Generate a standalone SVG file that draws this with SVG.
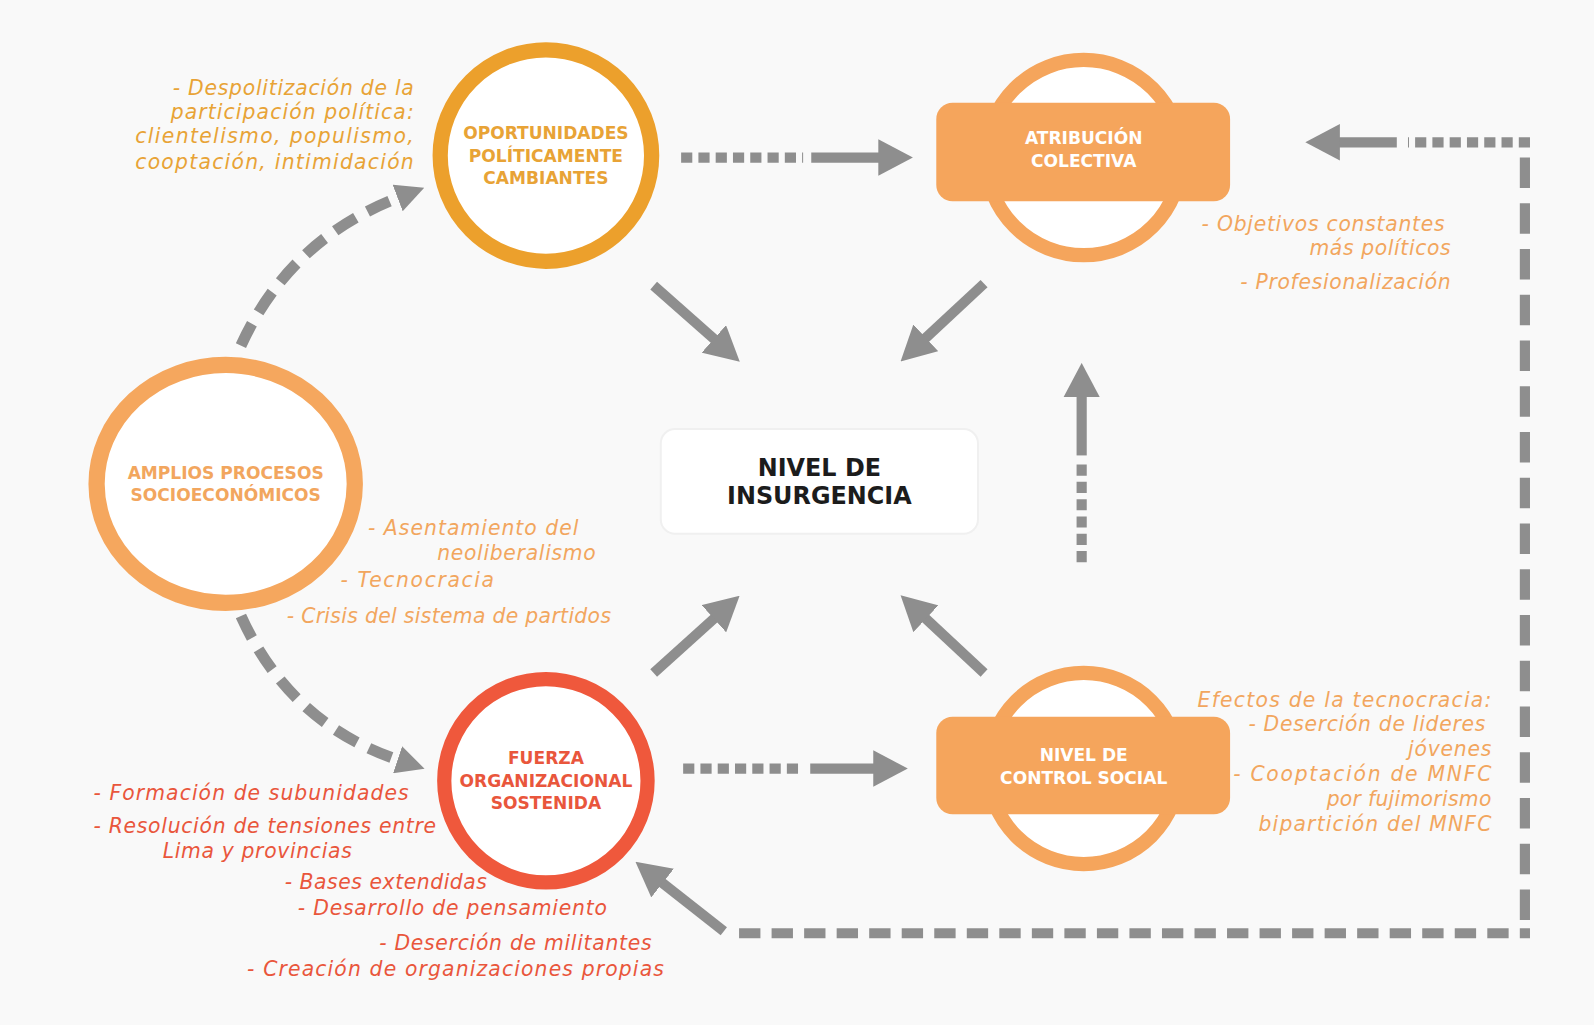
<svg xmlns="http://www.w3.org/2000/svg" width="1594" height="1025" viewBox="0 0 1594 1025">
<defs>
<style>
.bg{fill:#f9f9f9}
.lbl{font-family:"DejaVu Sans","Liberation Sans",sans-serif;font-weight:bold;font-size:16.8px;text-anchor:middle}
.note{font-family:"DejaVu Sans","Liberation Sans",sans-serif;font-style:italic;font-size:20px;letter-spacing:1px}
.end{text-anchor:end}
.c-gold{fill:#E8A336}
.c-peach{fill:#F2A65E}
.c-red{fill:#E9563C}
.white{fill:#ffffff}
.ar{stroke:#8e8e8e;stroke-width:10;fill:none}
.dot{stroke-dasharray:11 6}
.dash{stroke:#8e8e8e;stroke-width:11;fill:none;stroke-dasharray:24 13}
</style>
<marker id="ah" markerUnits="userSpaceOnUse" markerWidth="34" markerHeight="36" viewBox="0 0 34 36" refX="1" refY="18" orient="auto">
<path d="M0,0 L34,18 L0,36 z" fill="#8e8e8e"/>
</marker>
<marker id="ahs" markerUnits="userSpaceOnUse" markerWidth="28" markerHeight="28" viewBox="0 0 28 28" refX="2" refY="14" orient="auto">
<path d="M0,0 L28,14 L0,28 z" fill="#8e8e8e"/>
</marker>
</defs>
<rect class="bg" x="0" y="0" width="1594" height="1025"/>

<g id="diagram" transform="scale(1.0166)">
<g id="connectors">
<line class="ar dot" x1="670" y1="155" x2="790" y2="155"/>
<line class="ar" x1="798" y1="155" x2="865" y2="155" marker-end="url(#ah)"/>
<line class="ar" x1="643" y1="281" x2="703" y2="334" marker-end="url(#ah)"/>
<line class="ar" x1="968" y1="279" x2="910" y2="333" marker-end="url(#ah)"/>
<line class="ar" x1="643" y1="662" x2="703" y2="608" marker-end="url(#ah)"/>
<line class="ar" x1="968" y1="662" x2="910" y2="608" marker-end="url(#ah)"/>
<line class="ar dot" x1="1064" y1="553" x2="1064" y2="451"/>
<line class="ar" x1="1064" y1="448" x2="1064" y2="390" marker-end="url(#ah)"/>
<line class="ar dot" x1="672" y1="756" x2="790" y2="756"/>
<line class="ar" x1="797" y1="756" x2="860" y2="756" marker-end="url(#ah)"/>
<path class="dash" d="M 237 340 Q 285 235 393 194" marker-end="url(#ahs)"/>
<path class="dash" d="M 237 606 Q 285 712 393 748" marker-end="url(#ahs)"/>
<line class="ar" x1="727" y1="918" x2="1505" y2="918" stroke-dasharray="21 11"/>
<line class="ar" x1="1500" y1="905" x2="1500" y2="148" stroke-dasharray="30 15"/>
<line class="ar dot" x1="1505" y1="140" x2="1385" y2="140"/>
<line class="ar" x1="1374" y1="140" x2="1317" y2="140" marker-end="url(#ah)"/>
<line class="ar" x1="712" y1="916" x2="651" y2="868" marker-end="url(#ah)"/>
</g>

<g id="node-insurgencia">
<rect x="650" y="422" width="312" height="103" rx="14" fill="#ffffff" stroke="#f0f0f0" stroke-width="2"/>
<text class="lbl" x="806" y="468" style="font-size:23.5px" fill="#1c1c1c">NIVEL DE</text>
<text class="lbl" x="806" y="496" style="font-size:23.5px" fill="#1c1c1c">INSURGENCIA</text>
</g>

<g id="node-oportunidades">
<circle cx="537" cy="153" r="104" fill="#ffffff" stroke="#ECA02C" stroke-width="15"/>
<text class="lbl c-gold" x="537" y="137">OPORTUNIDADES</text>
<text class="lbl c-gold" x="537" y="159">POLÍTICAMENTE</text>
<text class="lbl c-gold" x="537" y="181">CAMBIANTES</text>
<text class="note end c-gold" x="408" y="93" textLength="238" lengthAdjust="spacing">- Despolitización de la</text>
<text class="note end c-gold" x="408" y="117" textLength="240" lengthAdjust="spacing">participación política:</text>
<text class="note end c-gold" x="408" y="141" textLength="275" lengthAdjust="spacing">clientelismo,  populismo,</text>
<text class="note end c-gold" x="408" y="166" textLength="275" lengthAdjust="spacing">cooptación, intimidación</text>
</g>

<g id="node-atribucion">
<circle cx="1066" cy="155" r="96" fill="#ffffff" stroke="#F5A55C" stroke-width="14"/>
<rect x="921" y="101" width="289" height="97" rx="16" fill="#F5A55C"/>
<text class="lbl white" x="1066" y="142">ATRIBUCIÓN</text>
<text class="lbl white" x="1066" y="164">COLECTIVA</text>
<text class="note end c-peach" x="1422" y="227" textLength="240" lengthAdjust="spacing">- Objetivos constantes</text>
<text class="note end c-peach" x="1428" y="251" textLength="140" lengthAdjust="spacing">más políticos</text>
<text class="note end c-peach" x="1428" y="284" textLength="208" lengthAdjust="spacing">- Profesionalización</text>
</g>

<g id="node-amplios">
<ellipse cx="222" cy="476" rx="127" ry="117" fill="#ffffff" stroke="#F5A75E" stroke-width="16"/>
<text class="lbl c-peach" x="222" y="471">AMPLIOS PROCESOS</text>
<text class="lbl c-peach" x="222" y="493">SOCIOECONÓMICOS</text>
<text class="note c-peach" x="362" y="526" textLength="208" lengthAdjust="spacing">- Asentamiento del</text>
<text class="note c-peach" x="430" y="551" textLength="157" lengthAdjust="spacing">neoliberalismo</text>
<text class="note c-peach" x="335" y="577" textLength="152" lengthAdjust="spacing">- Tecnocracia</text>
<text class="note c-peach" x="282" y="613" textLength="320" lengthAdjust="spacing">- Crisis del sistema de partidos</text>
</g>

<g id="node-fuerza">
<circle cx="537" cy="768" r="100" fill="#ffffff" stroke="#EF583C" stroke-width="14"/>
<text class="lbl c-red" x="537" y="752">FUERZA</text>
<text class="lbl c-red" x="537" y="774">ORGANIZACIONAL</text>
<text class="lbl c-red" x="537" y="796">SOSTENIDA</text>
<text class="note c-red" x="92" y="787" textLength="311" lengthAdjust="spacing">- Formación de subunidades</text>
<text class="note c-red" x="92" y="819" textLength="338" lengthAdjust="spacing">- Resolución de tensiones entre</text>
<text class="note c-red" x="160" y="844" textLength="187" lengthAdjust="spacing">Lima y provincias</text>
<text class="note c-red" x="280" y="874" textLength="200" lengthAdjust="spacing">- Bases extendidas</text>
<text class="note c-red" x="293" y="900" textLength="305" lengthAdjust="spacing">- Desarrollo de pensamiento</text>
<text class="note end c-red" x="642" y="934" textLength="269" lengthAdjust="spacing">- Deserción de militantes</text>
<text class="note end c-red" x="654" y="960" textLength="411" lengthAdjust="spacing">- Creación de organizaciones propias</text>
</g>

<g id="node-control">
<circle cx="1066" cy="756" r="94" fill="#ffffff" stroke="#F5A55C" stroke-width="14"/>
<rect x="921" y="705" width="289" height="96" rx="16" fill="#F5A55C"/>
<text class="lbl white" x="1066" y="749">NIVEL DE</text>
<text class="lbl white" x="1066" y="771">CONTROL SOCIAL</text>
<text class="note end c-peach" x="1468" y="695" textLength="290" lengthAdjust="spacing">Efectos de la tecnocracia:</text>
<text class="note end c-peach" x="1462" y="719" textLength="234" lengthAdjust="spacing">- Deserción de lideres</text>
<text class="note end c-peach" x="1468" y="744" textLength="83" lengthAdjust="spacing">jóvenes</text>
<text class="note end c-peach" x="1468" y="768" textLength="255" lengthAdjust="spacing">- Cooptación de MNFC</text>
<text class="note end c-peach" x="1468" y="793" textLength="163" lengthAdjust="spacing">por fujimorismo</text>
<text class="note end c-peach" x="1468" y="817" textLength="230" lengthAdjust="spacing">bipartición del MNFC</text>
</g>
</g>
</svg>
